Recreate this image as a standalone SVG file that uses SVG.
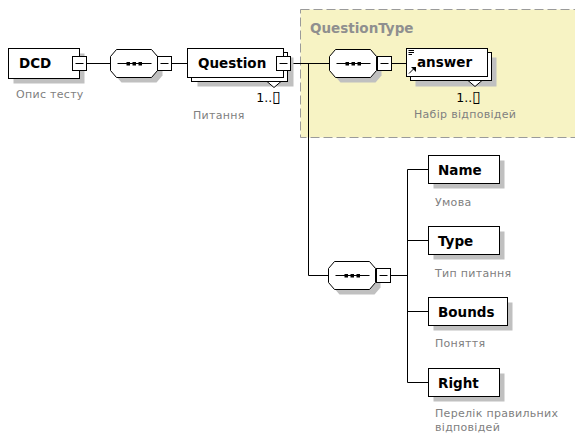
<svg xmlns="http://www.w3.org/2000/svg" width="575" height="434" viewBox="0 0 575 434">
  <style>
    .ln { stroke: #000; stroke-width: 1; fill: none; }
    .box { fill: #fff; stroke: #000; stroke-width: 1; }
    .shd { fill: #c0c0c0; }
    .nm { font-family: "DejaVu Sans", Verdana, sans-serif; font-weight: bold; font-size: 13.5px; fill: #000; }
    .ds { font-family: "DejaVu Sans", Verdana, sans-serif; font-size: 11px; letter-spacing: 0.3px; fill: #808080; }
    .occ { font-family: "DejaVu Sans", Verdana, sans-serif; font-size: 12.5px; fill: #000; text-anchor: end; }
    .occ .bx { font-size: 16px; }
    .ttl { font-family: "DejaVu Sans", Verdana, sans-serif; font-weight: bold; font-size: 13.5px; fill: #8f8f8f; }
  </style>
  <defs>
    <!-- sequence compositor: octagon with shadow and dotted bar -->
    <g id="seq">
      <polygon class="shd" points="11,5 46,5 52,12 52,26 46,33 11,33 5,26 5,12"/>
      <polygon class="box" points="6,0 41,0 47,7 47,21 41,28 6,28 0,21 0,7"/>
      <line class="ln" x1="7" y1="14" x2="41" y2="14"/>
      <rect x="16" y="12.5" width="3.5" height="3.5" fill="#000"/>
      <rect x="22" y="12.5" width="3.5" height="3.5" fill="#000"/>
      <rect x="28" y="12.5" width="3.5" height="3.5" fill="#000"/>
    </g>
    <!-- collapse toggle -->
    <g id="minus">
      <rect class="box" x="0" y="0" width="14" height="14"/>
      <line class="ln" x1="3" y1="7" x2="11" y2="7"/>
    </g>
  </defs>

  <!-- complex type area -->
  <g id="QuestionType">
    <rect x="300.5" y="9.5" width="290" height="128" fill="#f7f3c4" stroke="#9a9a9a" stroke-dasharray="9 4"/>
    <text class="ttl" x="310" y="33">QuestionType</text>
  </g>

  <!-- connectors -->
  <g id="connectors" class="ln">
    <line x1="86.5" y1="63.5" x2="110.5" y2="63.5"/>
    <line x1="171.5" y1="63.5" x2="187.5" y2="63.5"/>
    <line x1="290.5" y1="63.5" x2="329.5" y2="63.5"/>
    <line x1="391.5" y1="63.5" x2="406.5" y2="63.5"/>
    <polyline points="308.5,63.5 308.5,275.5 328.5,275.5"/>
    <line x1="390.5" y1="275.5" x2="407.5" y2="275.5"/>
    <line x1="407.5" y1="169.5" x2="407.5" y2="382.5"/>
    <line x1="407.5" y1="169.5" x2="428.5" y2="169.5"/>
    <line x1="407.5" y1="240.5" x2="428.5" y2="240.5"/>
    <line x1="407.5" y1="311.5" x2="428.5" y2="311.5"/>
    <line x1="407.5" y1="382.5" x2="428.5" y2="382.5"/>
  </g>

  <g id="DCD">
    <rect class="shd" x="13.5" y="53.5" width="71" height="30"/>
    <rect class="box" x="8.5" y="48.5" width="71" height="30"/>
    <text class="nm" x="19" y="68">DCD</text>
    <use href="#minus" x="72.5" y="56.5"/>
    <text class="ds" x="16" y="98">Опис тесту</text>
  </g>

  <g id="seq1">
    <use href="#seq" x="110.5" y="49.5"/>
    <use href="#minus" x="157.5" y="56.5"/>
  </g>

  <g id="Question">
    <rect class="shd" x="197.5" y="57.5" width="96" height="29"/>
    <rect class="box" x="191.5" y="52.5" width="96" height="29"/>
    <rect class="box" x="187.5" y="48.5" width="96" height="29"/>
    <polygon class="box" points="267,81.5 281,81.5 274,87.5"/>
    <text class="nm" x="198" y="68">Question</text>
    <use href="#minus" x="276.5" y="56.5"/>
    <text class="occ" x="281" y="102">1..<tspan class="bx">▯</tspan></text>
    <text class="ds" x="193" y="119">Питання</text>
  </g>

  <g id="seq2">
    <use href="#seq" x="329.5" y="49.5"/>
    <use href="#minus" x="377.5" y="56.5"/>
  </g>

  <g id="answer">
    <rect class="shd" x="415.5" y="57.5" width="81" height="29"/>
    <rect class="box" x="410.5" y="52.5" width="81" height="28"/>
    <rect class="box" x="406.5" y="48.5" width="81" height="28"/>
    <polygon class="box" points="468,80.5 482,80.5 475,86.5"/>
    <path class="ln" d="M408.5 50.5 H414 M408.5 52.5 H414 M408.5 54.5 H412"/>
    <path class="ln" stroke-width="1.4" d="M409 73.5 L414 68.5"/>
    <polygon points="411,67 416,67 416,72" fill="#000"/>
    <text class="nm" x="417" y="67">answer</text>
    <text class="occ" x="481" y="102">1..<tspan class="bx">▯</tspan></text>
    <text class="ds" x="414" y="118">Набір відповідей</text>
  </g>

  <g id="seq3">
    <use href="#seq" x="328.5" y="261.5"/>
    <use href="#minus" x="376.5" y="268.5"/>
  </g>

  <g id="Name">
    <rect class="shd" x="433.5" y="160.5" width="71" height="28"/>
    <rect class="box" x="428.5" y="155.5" width="71" height="28"/>
    <text class="nm" x="438" y="175">Name</text>
    <text class="ds" x="435" y="206">Умова</text>
  </g>

  <g id="Type">
    <rect class="shd" x="433.5" y="231.5" width="71" height="28"/>
    <rect class="box" x="428.5" y="226.5" width="71" height="28"/>
    <text class="nm" x="438" y="246">Type</text>
    <text class="ds" x="435" y="277">Тип питання</text>
  </g>

  <g id="Bounds">
    <rect class="shd" x="433.5" y="302.5" width="79" height="28"/>
    <rect class="box" x="428.5" y="297.5" width="79" height="28"/>
    <text class="nm" x="438" y="317">Bounds</text>
    <text class="ds" x="435" y="347">Поняття</text>
  </g>

  <g id="Right">
    <rect class="shd" x="433.5" y="373.5" width="71" height="28"/>
    <rect class="box" x="428.5" y="368.5" width="71" height="28"/>
    <text class="nm" x="438" y="388">Right</text>
    <text class="ds" x="435" y="417">Перелік правильних</text>
    <text class="ds" x="435" y="431">відповідей</text>
  </g>
</svg>
